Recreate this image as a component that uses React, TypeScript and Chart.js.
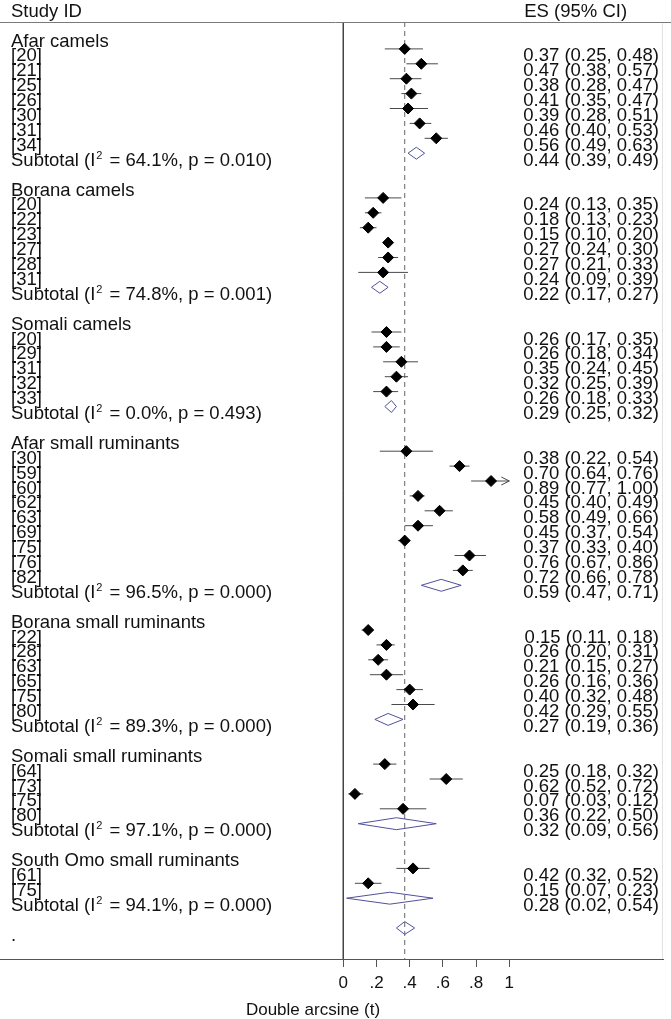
import React, { useEffect, useRef } from 'react';
import { Chart, registerables } from 'chart.js';

Chart.register(...registerables);

// ---------- data ----------
const groupNames = [
  'Afar camels',
  'Borana camels',
  'Somali camels',
  'Afar small ruminants',
  'Borana small ruminants',
  'Somali small ruminants',
  'South Omo small ruminants',
];

const studyIds = [
  ['[20]', '[21]', '[25]', '[26]', '[30]', '[31]', '[34]'],
  ['[20]', '[22]', '[23]', '[27]', '[28]', '[31]'],
  ['[20]', '[29]', '[31]', '[32]', '[33]'],
  ['[30]', '[59]', '[60]', '[62]', '[63]', '[69]', '[75]', '[76]', '[82]'],
  ['[22]', '[28]', '[63]', '[65]', '[75]', '[80]'],
  ['[64]', '[73]', '[75]', '[80]'],
  ['[61]', '[75]'],
];

const studyES = [
  [0.37, 0.47, 0.38, 0.41, 0.39, 0.46, 0.56],
  [0.24, 0.18, 0.15, 0.27, 0.27, 0.24],
  [0.26, 0.26, 0.35, 0.32, 0.26],
  [0.38, 0.70, 0.89, 0.45, 0.58, 0.45, 0.37, 0.76, 0.72],
  [0.15, 0.26, 0.21, 0.26, 0.40, 0.42],
  [0.25, 0.62, 0.07, 0.36],
  [0.42, 0.15],
];

const studyLow = [
  [0.25, 0.38, 0.28, 0.35, 0.28, 0.40, 0.49],
  [0.13, 0.13, 0.10, 0.24, 0.21, 0.09],
  [0.17, 0.18, 0.24, 0.25, 0.18],
  [0.22, 0.64, 0.77, 0.40, 0.49, 0.37, 0.33, 0.67, 0.66],
  [0.11, 0.20, 0.15, 0.16, 0.32, 0.29],
  [0.18, 0.52, 0.03, 0.22],
  [0.32, 0.07],
];

const studyHigh = [
  [0.48, 0.57, 0.47, 0.47, 0.51, 0.53, 0.63],
  [0.35, 0.23, 0.20, 0.30, 0.33, 0.39],
  [0.35, 0.34, 0.45, 0.39, 0.33],
  [0.54, 0.76, 1.00, 0.49, 0.66, 0.54, 0.40, 0.86, 0.78],
  [0.18, 0.31, 0.27, 0.36, 0.48, 0.55],
  [0.32, 0.72, 0.12, 0.50],
  [0.52, 0.23],
];

const subtotalES = [0.44, 0.22, 0.29, 0.59, 0.27, 0.32, 0.28];
const subtotalLow = [0.39, 0.17, 0.25, 0.47, 0.19, 0.09, 0.02];
const subtotalHigh = [0.49, 0.27, 0.32, 0.71, 0.36, 0.56, 0.54];
const subtotalI2 = ['64.1', '74.8', '0.0', '96.5', '89.3', '97.1', '94.1'];
const subtotalP = ['0.010', '0.001', '0.493', '0.000', '0.000', '0.000', '0.000'];

const overallES = 0.37;
const overallLow = 0.32;
const overallHigh = 0.43;
const overallLabel = '.';

const xTickValues = [0, 0.2, 0.4, 0.6, 0.8, 1];
const xTickLabels = ['0', '.2', '.4', '.6', '.8', '1'];
const axisTitle = 'Double arcsine (t)';
const headerLeft = 'Study ID';
const headerRight = 'ES (95% CI)';

// ---------- layout ----------
const W = 671;
const H = 1019;
const AXIS_Y = 959;
const X0_PX = 343.3;
const PX_PER_UNIT = 166;
const PLOT_RIGHT = 663;
const XMIN = -X0_PX / PX_PER_UNIT;
const XMAX = (PLOT_RIGHT - X0_PX) / PX_PER_UNIT;
const ROW_PX = 14.9;
const FIRST_MARKER_PX = 34;
const YMIN = -FIRST_MARKER_PX / ROW_PX;
const YMAX = YMIN + AXIS_Y / ROW_PX;
const TOP_LINE_Y = 22;
const TOP_ROW = YMIN + TOP_LINE_Y / ROW_PX;
const TEXT_DROP = 12.5;
const LEFT_X = 11;
const RIGHT_X = 659;
const FONT = "'Liberation Sans', Arial, Helvetica, sans-serif";
const FS = 18.5;

type Row = {
  kind: 'group' | 'study' | 'subtotal' | 'overall';
  r: number;
  g: number;
  label: string;
  es?: number;
  lo?: number;
  hi?: number;
};

const rows: Row[] = [];
(() => {
  let r = 0;
  groupNames.forEach((name, g) => {
    rows.push({ kind: 'group', r: r++, g, label: name });
    studyIds[g].forEach((id, i) => {
      rows.push({ kind: 'study', r: r++, g, label: id, es: studyES[g][i], lo: studyLow[g][i], hi: studyHigh[g][i] });
    });
    rows.push({ kind: 'subtotal', r: r++, g, label: 'Subtotal', es: subtotalES[g], lo: subtotalLow[g], hi: subtotalHigh[g] });
    r++; // blank row
  });
  rows.push({ kind: 'overall', r: r, g: -1, label: overallLabel, es: overallES, lo: overallLow, hi: overallHigh });
})();

const fmt = (v: number) => v.toFixed(2);

const studyRows = rows.filter((x) => x.kind === 'study');
const subRows = rows.filter((x) => x.kind === 'subtotal');
const overallRow = rows.find((x) => x.kind === 'overall')!;

const pointData = studyRows.map((x) => ({ x: x.es, y: x.r }));
const ciData: any[] = [];
studyRows.forEach((x) => {
  ciData.push({ x: x.lo, y: x.r }, { x: x.hi, y: x.r }, { x: null, y: null });
});
const diamondData: any[] = [];
subRows.forEach((x) => {
  diamondData.push(
    { x: x.lo, y: x.r },
    { x: x.es, y: x.r - 0.4 },
    { x: x.hi, y: x.r },
    { x: x.es, y: x.r + 0.4 },
    { x: x.lo, y: x.r },
    { x: null, y: null }
  );
});
const overallDiamond = [
  { x: overallRow.lo, y: overallRow.r },
  { x: overallRow.es, y: overallRow.r - 0.43 },
  { x: overallRow.hi, y: overallRow.r },
  { x: overallRow.es, y: overallRow.r + 0.43 },
  { x: overallRow.lo, y: overallRow.r },
];

const lineDs = (data: any[], color: string, width = 1, dash: number[] = []) => ({
  type: 'scatter' as const,
  data,
  showLine: true,
  borderColor: color,
  backgroundColor: color,
  borderWidth: width,
  borderDash: dash,
  pointRadius: 0,
  pointHoverRadius: 0,
  fill: false,
  tension: 0,
  spanGaps: false,
});

const forestText = {
  id: 'forestText',
  afterDatasetsDraw(chart: any) {
    const ctx: CanvasRenderingContext2D = chart.ctx;
    const xs = chart.scales.x;
    const ys = chart.scales.y;
    ctx.save();
    // header separator
    ctx.strokeStyle = '#7a7a7a';
    ctx.lineWidth = 1;
    ctx.beginPath();
    ctx.moveTo(0, TOP_LINE_Y + 0.5);
    ctx.lineTo(W, TOP_LINE_Y + 0.5);
    ctx.stroke();

    ctx.fillStyle = '#111';
    ctx.font = `${FS}px ${FONT}`;
    ctx.textBaseline = 'alphabetic';
    ctx.textAlign = 'left';
    ctx.fillText(headerLeft, LEFT_X, 17);
    const sampleW = ctx.measureText('0.37 (0.25, 0.48)').width;
    ctx.fillText(headerRight, RIGHT_X - sampleW + 1, 17);

    rows.forEach((row) => {
      const yb = ys.getPixelForValue(row.r) + TEXT_DROP;
      ctx.font = `${FS}px ${FONT}`;
      ctx.textAlign = 'left';
      if (row.kind === 'subtotal') {
        const a = 'Subtotal (I';
        ctx.fillText(a, LEFT_X, yb);
        let x = LEFT_X + ctx.measureText(a).width;
        ctx.font = `11px ${FONT}`;
        ctx.fillText('2', x + 1, yb - 7);
        x += ctx.measureText('2').width + 3;
        ctx.font = `${FS}px ${FONT}`;
        ctx.fillText(` = ${subtotalI2[row.g]}%, p = ${subtotalP[row.g]})`, x, yb);
      } else {
        ctx.fillText(row.label, LEFT_X, yb);
      }
      if (row.kind === 'study' || row.kind === 'subtotal') {
        ctx.textAlign = 'right';
        ctx.fillText(`${fmt(row.es!)} (${fmt(row.lo!)}, ${fmt(row.hi!)})`, RIGHT_X, yb);
      }
    });

    // arrows for CIs reaching the axis limit
    ctx.strokeStyle = '#444';
    ctx.lineWidth = 1;
    studyRows.forEach((row) => {
      if (row.hi! >= 1) {
        const px = xs.getPixelForValue(1);
        const py = ys.getPixelForValue(row.r);
        ctx.beginPath();
        ctx.moveTo(px - 8, py - 4);
        ctx.lineTo(px, py);
        ctx.lineTo(px - 8, py + 4);
        ctx.stroke();
      }
    });

    // axis title
    ctx.font = `17px ${FONT}`;
    ctx.textAlign = 'center';
    ctx.fillStyle = '#111';
    ctx.fillText(axisTitle, 313, 1015);
    ctx.restore();
  },
};

export default function App() {
  const ref = useRef<HTMLCanvasElement>(null);
  useEffect(() => {
    document.body.style.margin = '0';
    const canvas = ref.current!;
    const chart = new Chart(canvas, {
      type: 'scatter',
      data: {
        datasets: [
          {
            type: 'scatter',
            data: pointData,
            pointStyle: 'rectRot',
            pointRadius: 5.5,
            pointHoverRadius: 5.5,
            backgroundColor: '#000',
            borderColor: '#000',
            borderWidth: 1,
            showLine: false,
          } as any,
          lineDs(ciData, '#4a4a4a', 1),
          lineDs(diamondData, '#50509a', 1),
          lineDs(overallDiamond, '#50509a', 1),
          lineDs([{ x: overallES, y: TOP_ROW }, { x: overallES, y: YMAX }], '#666', 1, [5, 4]),
          lineDs([{ x: 0, y: TOP_ROW }, { x: 0, y: YMAX }], '#444', 1),
          lineDs([{ x: XMAX, y: TOP_ROW }, { x: XMAX, y: YMAX }], '#dcdcdc', 1),
        ],
      },
      options: {
        animation: false,
        responsive: false,
        maintainAspectRatio: false,
        layout: { autoPadding: false, padding: { left: 0, right: W - PLOT_RIGHT, top: 0, bottom: 0 } },
        plugins: {
          legend: { display: false },
          tooltip: { enabled: false },
          title: { display: false },
        },
        scales: {
          x: {
            type: 'linear',
            min: XMIN,
            max: XMAX,
            afterBuildTicks: (scale: any) => {
              scale.ticks = xTickValues.map((v) => ({ value: v }));
            },
            afterFit: (scale: any) => {
              scale.height = H - AXIS_Y;
            },
            ticks: {
              autoSkip: false,
              maxRotation: 0,
              minRotation: 0,
              padding: 6,
              color: '#111',
              font: { family: FONT, size: 17 },
              callback: (value: any) => {
                const i = xTickValues.findIndex((t) => Math.abs(t - Number(value)) < 1e-9);
                return i >= 0 ? xTickLabels[i] : '';
              },
            },
            grid: { drawOnChartArea: false, tickLength: 8, color: '#555', lineWidth: 1 },
            border: { display: true, color: '#555', width: 1 },
          },
          y: {
            type: 'linear',
            display: false,
            reverse: true,
            min: YMIN,
            max: YMAX,
          },
        },
      } as any,
      plugins: [forestText],
    });
    return () => chart.destroy();
  }, []);
  return (
    <div style={{ width: W, height: H, background: '#fff' }}>
      <canvas ref={ref} width={W} height={H} style={{ display: 'block', width: W, height: H }} />
    </div>
  );
}
